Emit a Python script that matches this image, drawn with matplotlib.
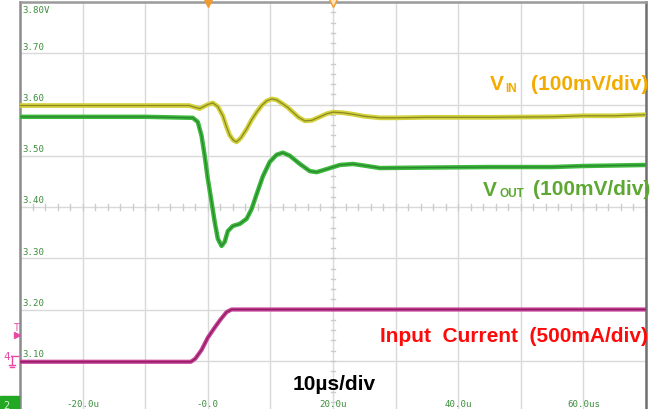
import matplotlib
matplotlib.use('Agg')
import matplotlib.pyplot as plt
from matplotlib.transforms import blended_transform_factory
import numpy as np

W, H = 654, 410

# ---------------- data ----------------
# time in microseconds; traces expressed in screen-volt units (3.0 .. 3.8, 0.1/div)
t_vin = [-30, -10, -3, -1.3, 0.0, 0.8, 1.6, 2.4, 3.0, 3.5, 4.1, 4.6, 5.3, 6.2, 7.0,
         7.8, 8.6, 9.4, 10.2, 11.0, 12.0, 12.8, 13.6, 14.5, 15.5, 16.6, 17.9, 19.0,
         20.0, 21.5, 23.2, 25.0, 27.5, 30, 35, 45, 55, 60, 65, 70]
vin = [3.598, 3.598, 3.598, 3.592, 3.600, 3.603, 3.596, 3.578, 3.556, 3.540, 3.530, 3.527,
       3.535, 3.552, 3.570, 3.585, 3.598, 3.607, 3.611, 3.609, 3.601, 3.594, 3.585, 3.575,
       3.568, 3.569, 3.576, 3.582, 3.585, 3.584, 3.581, 3.577, 3.574, 3.574, 3.575, 3.575,
       3.576, 3.578, 3.578, 3.580]

t_vout = [-30, -10, -2.4, -1.6, -1.0, -0.5, 0.0, 0.6, 1.1, 1.6, 2.2, 2.7, 3.2, 4.0, 5.1,
          6.2, 7.0, 7.8, 8.8, 9.9, 11.0, 12.0, 13.1, 14.7, 16.3, 17.4, 19.0, 21.1, 23.2,
          25.4, 27.5, 35, 45, 55, 60, 65, 70]
vout = [3.576, 3.576, 3.574, 3.566, 3.539, 3.500, 3.455, 3.410, 3.371, 3.338, 3.324, 3.332,
        3.353, 3.363, 3.367, 3.377, 3.396, 3.425, 3.460, 3.488, 3.502, 3.506, 3.500, 3.484,
        3.470, 3.468, 3.474, 3.482, 3.484, 3.480, 3.476, 3.477, 3.478, 3.478, 3.480, 3.481, 3.482]

t_iin = [-30, -10, -2.7, -2.0, -1.0, 0.0, 1.0, 2.0, 3.0, 3.8, 10, 30, 50, 70]
iin = [3.098, 3.098, 3.098, 3.104, 3.121, 3.145, 3.163, 3.180, 3.195, 3.200, 3.200, 3.200,
       3.200, 3.200]

y_tick_vals = [3.8, 3.7, 3.6, 3.5, 3.4, 3.3, 3.2, 3.1]
y_tick_text = ['3.80V', '3.70', '3.60', '3.50', '3.40', '3.30', '3.20', '3.10']
x_tick_vals = [-20, 0, 20, 40, 60]
x_tick_text = ['-20.0u', '-0.0', '20.0u', '40.0u', '60.0us']

# ---------------- figure ----------------
fig = plt.figure(figsize=(W / 100, H / 100), dpi=100)
fig.patch.set_facecolor('white')
ax = fig.add_axes([20 / W, (H - 413) / H, 626 / W, 410 / H])
ax.set_xlim(-30, 70)
ax.set_ylim(3.0, 3.8)
ax.set_xticks(np.arange(-30, 71, 10))
ax.set_yticks(np.arange(3.0, 3.81, 0.1))
ax.grid(True, color='#d9d9d9', lw=1.0)
ax.tick_params(length=0, labelleft=False, labelbottom=False)
ax.set_axisbelow(True)
ax.spines['bottom'].set_visible(False)
ax.spines['left'].set_color('#8c8c8c')
ax.spines['left'].set_linewidth(1.8)
ax.spines['top'].set_color('#9a9a9a')
ax.spines['top'].set_linewidth(1.8)
ax.spines['right'].set_color('#6e6e6e')
ax.spines['right'].set_linewidth(1.8)

# center-axis minor ticks
for t in np.arange(-30, 70.1, 2):
    ax.plot([t, t], [3.4 - 0.005, 3.4 + 0.005], color='#cccccc', lw=1, zorder=1)
for v in np.arange(3.0, 3.801, 0.02):
    ax.plot([20 - 0.3, 20 + 0.3], [v, v], color='#cccccc', lw=1, zorder=1)

# traces
ax.plot(t_iin, iin, color='#c8409a', lw=3.0, solid_capstyle='butt', zorder=3)
ax.plot(t_iin, iin, color='#80184e', lw=1.0, alpha=0.8, zorder=4)
ax.plot(t_vout, vout, color='#3cb83c', lw=3.2, solid_capstyle='butt', zorder=3)
ax.plot(t_vout, vout, color='#24702a', lw=0.9, alpha=0.7, zorder=4)
ax.plot(t_vin, vin, color='#d2d23c', lw=3.4, solid_capstyle='butt', zorder=3)
ax.plot(t_vin, vin, color='#76701c', lw=0.9, alpha=0.75, zorder=4)

# y labels (scope style)
mono = dict(family='DejaVu Sans Mono', fontsize=6.6, color='#3e8e3e')
for v, s in zip(y_tick_vals, y_tick_text):
    if v >= 3.8:
        ax.text(-29.6, v - 0.006, s, va='top', ha='left', **mono)
    else:
        ax.text(-29.6, v + 0.005, s, va='bottom', ha='left', **mono)

trx = blended_transform_factory(ax.transData, fig.transFigure)
for t, s in zip(x_tick_vals, x_tick_text):
    ax.text(t, 1 - 400 / H, s, va='top', ha='center', transform=trx,
            clip_on=False, **mono)

# annotations
def ftext(x, y, s, **kw):
    fig.text(x / W, 1 - y / H, s, **kw)

bold = dict(family='Liberation Sans', fontweight='bold')
c_vin = '#f4ab00'
ftext(490, 90, 'V', color=c_vin, fontsize=15, ha='left', va='baseline', **bold)
ftext(505, 92, 'IN', color=c_vin, fontsize=8.5, ha='left', va='baseline', **bold)
ftext(648, 90, '(100mV/div)', color=c_vin, fontsize=15, ha='right', va='baseline', **bold)

c_vout = '#5da832'
ftext(483, 196, 'V', color=c_vout, fontsize=15, ha='left', va='baseline', **bold)
ftext(499, 197, 'OUT', color=c_vout, fontsize=8.5, ha='left', va='baseline', **bold)
ftext(650, 195, '(100mV/div)', color=c_vout, fontsize=15, ha='right', va='baseline', **bold)

ftext(648, 342, 'Input  Current  (500mA/div)', color='#ff0a0a', fontsize=15,
      ha='right', va='baseline', **bold)
ftext(293, 390, '10\u00b5s/div', color='black', fontsize=15, ha='left', va='baseline', **bold)

# scope markers
pink = '#e44aa6'
ftext(15.5, 331, 'T', color=pink, fontsize=7, ha='center', va='baseline', family='DejaVu Sans')
fig.add_artist(plt.Line2D([17 / W], [1 - 336 / H], marker='>', color=pink, markersize=4,
                          transform=fig.transFigure))
ftext(7, 360, '4', color=pink, fontsize=7.5, ha='center', va='baseline', family='DejaVu Sans')
fig.add_artist(plt.Line2D([11 / W, 18 / W], [1 - 357 / H, 1 - 357 / H], color=pink, lw=1,
                          transform=fig.transFigure))
fig.add_artist(plt.Line2D([12 / W, 12 / W], [1 - 357 / H, 1 - 366 / H], color=pink, lw=1,
                          transform=fig.transFigure))
fig.add_artist(plt.Line2D([9 / W, 15 / W], [1 - 366 / H, 1 - 366 / H], color=pink, lw=1,
                          transform=fig.transFigure))
fig.add_artist(plt.Line2D([10 / W, 14 / W], [1 - 368 / H, 1 - 368 / H], color=pink, lw=1,
                          transform=fig.transFigure))

fig.add_artist(plt.Rectangle((0, 0), 19 / W, 13 / H, color='#22a822',
                             transform=fig.transFigure))
ftext(6, 409, '2', color='#d8f0d8', fontsize=7, ha='center', va='baseline', family='DejaVu Sans')

trtop = blended_transform_factory(ax.transData, fig.transFigure)
ax.plot([0], [1 - 3 / H], marker='v', color='#f29a2e', markersize=7, transform=trtop,
        clip_on=False, zorder=6)
ax.plot([20], [1 - 3 / H], marker='v', markerfacecolor='#fde3c0', markeredgecolor='#f29a2e',
        markersize=7, transform=trtop, clip_on=False, zorder=6)

fig.savefig('out.png', dpi=100)
